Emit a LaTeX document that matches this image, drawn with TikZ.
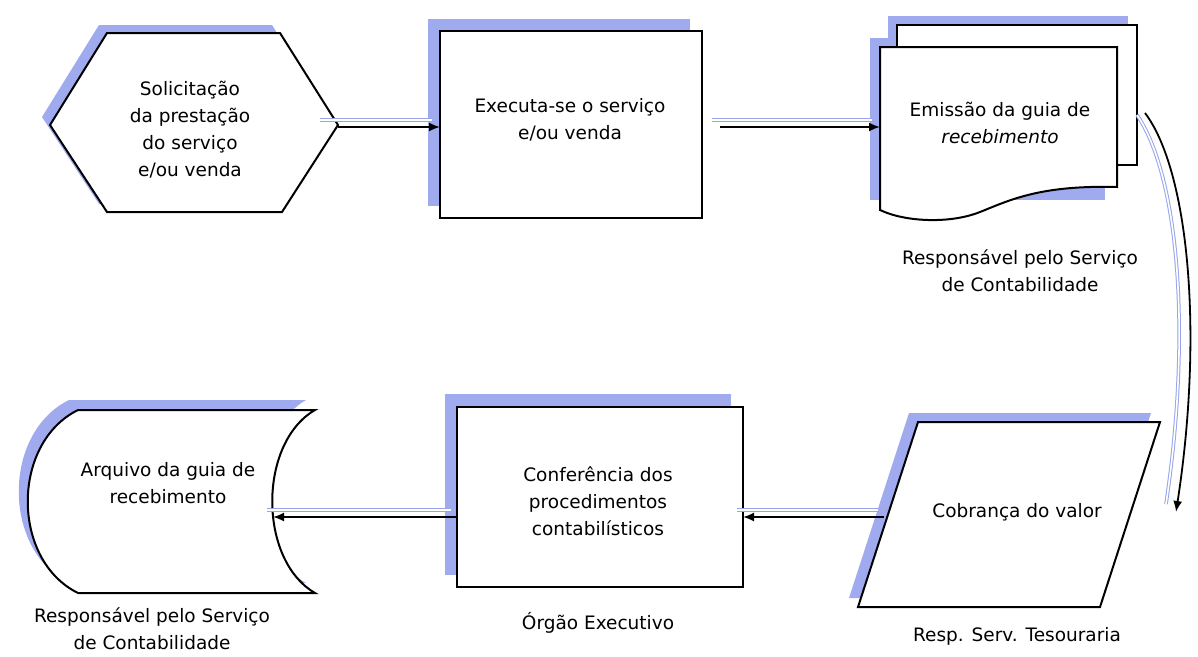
\documentclass[tikz,border=0pt]{standalone}
\usepackage{fontspec}
\setmainfont{DejaVu Sans}
\usetikzlibrary{arrows.meta}
\definecolor{shad}{RGB}{160,170,238}
\definecolor{arrsh}{RGB}{150,165,235}
\begin{document}
\begin{tikzpicture}[x=1pt,y=-1pt,
  box/.style={draw=black,line width=2pt,fill=white,line join=miter},
  shadowfill/.style={fill=shad,draw=none},
  txt/.style={font=\fontsize{18.5}{27}\selectfont,align=center,inner sep=0pt},
  conn/.style={-{Latex[length=11pt,width=9pt]},line width=1.8pt},
  connsh/.style={draw=arrsh,line width=1pt,double=white,double distance=1.6pt}]
\useasboundingbox[fill=white] (0,0) rectangle (1198,656);

% ---------- shadows ----------
\fill[shadowfill,shift={(-8,-8)}] (50,125) -- (107,33) -- (280,33) -- (338,125) -- (282,212) -- (107,212) -- cycle;
\fill[shadowfill] (428,19) rectangle (690,206);
\fill[shadowfill] (888,16) rectangle (1128,156);
\fill[shadowfill] (870,38) rectangle (1105,200);
\fill[shadowfill,shift={(-9,-9)}] (918,422) -- (1160,422) -- (1100,607) -- (858,607) -- cycle;
\fill[shadowfill] (445,394) rectangle (731,575);
\fill[shadowfill,shift={(-9,-10)}] (78,410) -- (315,410) .. controls (258,443) and (258,560) .. (315,593)
   -- (78,593) .. controls (11,560) and (11,443) .. (78,410) -- cycle;

% ---------- shapes ----------
\draw[box] (50,125) -- (107,33) -- (280,33) -- (338,125) -- (282,212) -- (107,212) -- cycle;
\draw[box] (440,31) rectangle (702,218);
\draw[box] (897,25) rectangle (1137,165);
\draw[box] (880,47) -- (1117,47) -- (1117,187)
   .. controls (1040,185) and (1010,200) .. (980,212)
   .. controls (950,224) and (905,222) .. (880,210) -- cycle;
\draw[box] (918,422) -- (1160,422) -- (1100,607) -- (858,607) -- cycle;
\draw[box] (457,407) rectangle (743,587);
\draw[box] (78,410) -- (315,410) .. controls (258,443) and (258,560) .. (315,593)
   -- (78,593) .. controls (11,560) and (11,443) .. (78,410) -- cycle;

% ---------- texts ----------
\node[txt] (t1) at (190,130) {Solicitação\\da prestação\\do serviço\\e/ou venda};
\node[txt] (t2) at (570,120) {Executa-se o serviço\\e/ou venda};
\node[txt] (t3) at (1000,123) {Emissão da guia de\\\itshape recebimento};
\node[txt] (l3) at (1020,271) {Responsável pelo Serviço\\de Contabilidade};
\node[txt] (t4) at (1017,512) {Cobrança do valor};
\node[txt] (l4) at (1017,636) {Resp. Serv. Tesouraria};
\node[txt] (t5) at (598,501) {Conferência dos\\procedimentos\\contabilísticos};
\node[txt] (l5) at (598,623) {Órgão Executivo};
\node[txt] (t6) at (168,483) {Arquivo da guia de\\recebimento};
\node[txt] (l6) at (152,629) {Responsável pelo Serviço\\de Contabilidade};

% ---------- connector points ----------
\coordinate (hexR) at (338,127);
\coordinate (r2L) at (440,127);
\coordinate (r2R) at (720,127);
\coordinate (docL) at (880,127);
\coordinate (docR) at (1145,113);
\coordinate (parR) at (1176,512);
\coordinate (parL) at (884,517);
\coordinate (r5R) at (743,517);
\coordinate (r5L) at (457,517);
\coordinate (arqR) at (273,517);

% ---------- connector shadows ----------
\draw[connsh] ([shift={(-18,-7)}]hexR) -- ([shift={(-8,-7)}]r2L);
\draw[connsh] ([shift={(-8,-7)}]r2R) -- ([shift={(-8,-7)}]docL);
\draw[connsh] ([shift={(-8,2)}]docR) .. controls (1178,175) and (1192,330) .. ([shift={(-10,-8)}]parR);
\draw[connsh] ([shift={(-6,-7)}]parL) -- ([shift={(-6,-7)}]r5R);
\draw[connsh] ([shift={(-6,-7)}]r5L) -- ([shift={(-6,-7)}]arqR);

% ---------- connectors ----------
\draw[conn] (hexR) -- (r2L);
\draw[conn] (r2R) -- (docL);
\draw[conn] (docR) .. controls (1188,170) and (1204,330) .. (parR);
\draw[conn] (parL) -- (r5R);
\draw[conn] (r5L) -- (arqR);
\end{tikzpicture}
\end{document}
